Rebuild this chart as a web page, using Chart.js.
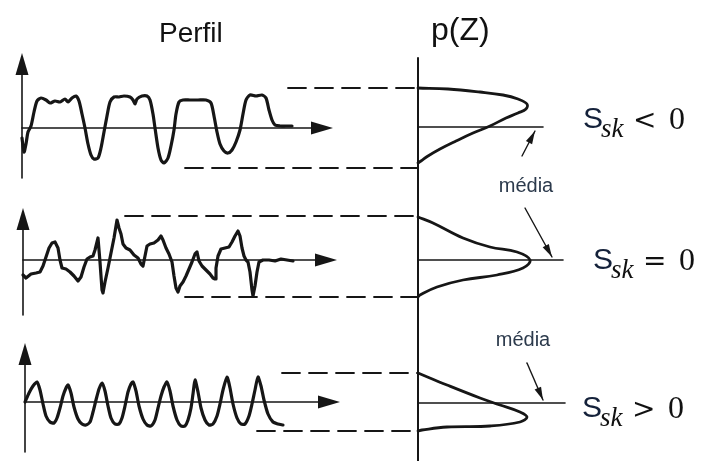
<!DOCTYPE html>
<html lang="pt">
<head>
<meta charset="utf-8">
<title>Perfil e p(Z)</title>
<script src="https://cdn.jsdelivr.net/npm/chart.js@4.4.1/dist/chart.umd.min.js"></script>
<style>
  html, body { margin: 0; padding: 0; background: #fff; }
  #wrap { position: relative; width: 714px; height: 461px; }
</style>
</head>
<body>
<div id="wrap"><canvas id="chart" width="714" height="461"></canvas></div>
<script>
// =============================================
// Perfil de superfície x densidade p(Z) - Ssk
// =============================================

// ── Dados (distância ao longo do perfil, altura Z) ──
const perfilNeg = [[0,-10],[2,-24],[4,-16],[6,-4],[9,2],[12,16],[15,27],[19,30],[24,28],[28,25],[33,27],[38,26],[43,29],[46,26],[50,30],[54,32],[57,27],[60,14],[63,0],[66,-16],[69,-27],[72,-31],[76,-30],[79,-20],[82,-4],[85,12],[88,26],[92,31],[97,31],[102,32],[108,31],[111,28],[113,24],[115,29],[120,32],[125,32],[128,28],[131,14],[133,0],[136,-20],[139,-32],[142,-35],[146,-30],[149,-18],[152,-2],[154,14],[157,26],[161,28],[168,28],[176,28],[184,28],[189,25],[192,12],[195,-4],[198,-16],[202,-23],[206,-25],[210,-22],[214,-14],[218,-2],[221,14],[224,28],[228,33],[234,32],[240,33],[244,30],[247,18],[250,8],[253,3],[258,2],[264,2],[270,2]];
const perfilZero = [[0,-15],[3,-18],[8,-14],[13,-13],[17,-12],[20,-6],[23,3],[26,12],[29,17],[32,18],[35,12],[37,0],[39,-8],[43,-9],[47,-12],[51,-16],[55,-21],[58,-17],[61,-7],[64,1],[67,3],[70,4],[72,10],[74,18],[75,22],[76,10],[77,-2],[79,-30],[80,-33],[82,-22],[85,-8],[87,2],[89,12],[91,22],[93,34],[94,40],[96,32],[98,26],[100,16],[103,12],[107,10],[111,5],[115,2],[118,-4],[120,-6],[122,4],[124,14],[127,16],[131,17],[135,20],[138,24],[140,20],[143,12],[146,6],[149,-2],[151,-16],[153,-28],[155,-32],[157,-26],[160,-22],[163,-16],[166,-9],[169,-2],[172,6],[174,8],[176,-1],[179,-6],[183,-10],[187,-14],[190,-18],[192,-19],[193,-8],[195,4],[198,11],[202,12],[206,13],[209,18],[212,24],[215,29],[217,24],[219,12],[221,4],[223,0],[225,-2],[227,-12],[229,-30],[230,-36],[232,-26],[234,-12],[236,-2],[240,0],[246,0],[252,-1],[258,1],[264,0],[270,-1]];
const perfilPos = [[0,0],[4,9],[8,16],[12,20],[15,12],[18,-2],[21,-14],[25,-20],[29,-21],[32,-16],[35,-6],[38,6],[41,14],[43,17],[46,9],[49,-5],[53,-17],[57,-22],[61,-23],[65,-20],[68,-10],[71,2],[74,13],[77,19],[80,11],[83,-4],[86,-16],[90,-22],[94,-22],[97,-16],[100,-4],[103,10],[106,18],[108,20],[111,11],[114,-4],[118,-17],[122,-23],[126,-24],[130,-18],[133,-6],[136,6],[139,15],[142,20],[145,11],[148,-4],[152,-18],[156,-24],[160,-24],[163,-18],[166,-6],[168,8],[170,22],[173,10],[176,-6],[180,-18],[184,-23],[188,-22],[192,-14],[195,-2],[198,12],[202,25],[205,14],[208,-2],[212,-16],[216,-22],[220,-22],[224,-14],[227,-2],[230,12],[233,25],[236,16],[239,2],[243,-12],[248,-20],[253,-22],[258,-23]];

// ── Densidade (p(Z), Z) ──
const densNeg = [[0,39],[30,38],[62,35],[85,32],[100,28],[109,23],[108,18],[100,14],[88,9],[72,1],[55,-6],[38,-14],[22,-22],[10,-29],[3,-34],[0,-36]];
const densZero = [[0,43],[15,37],[45,22],[72,13],[99,8],[112,0],[105,-8],[79,-15],[45,-20],[19,-27],[2,-35],[0,-37]];
const densPos = [[0,30],[29,18],[62,5],[82,-2],[102,-9],[109,-14],[102,-19],[72,-23],[29,-24],[4,-27],[0,-28]];

// alturas máximas / mínimas (linhas tracejadas)
const picos = [40, 44, 29];
const vales = [-40, -37, -29];
const sinais = ['<', '=', '>'];
const rotulos = { perfil: 'Perfil', eixo: 'p(Z)', media: 'média' };

// ── Layout ──────────────────────────
const INK = '#161616';
const PX = 418;
const ROWS = [
    { ox: 22, oy: 128, top: 53,  bot: 178, end: 333, hi: 288, lo: 185, my: 127, meanLen: 125, lbl: [583, 128], tension: 0.25 },
    { ox: 23, oy: 260, top: 208, bot: 315, end: 337, hi: 125, lo: 185, my: 260, meanLen: 145, lbl: [593, 269], tension: 0 },
    { ox: 25, oy: 402, top: 343, bot: 452, end: 340, hi: 282, lo: 257, my: 403, meanLen: 147, lbl: [582, 417], tension: 0.22 }
];
const setasMedia = [
    { from: [522, 156], to: [535, 131] },
    { from: [525, 208], to: [552, 257] },
    { from: [527, 363], to: [543, 400] }
];
const rotMedia = [[526, 192], [523, 346]];

const perfis = [perfilNeg, perfilZero, perfilPos];
const densidades = [densNeg, densZero, densPos];

function pts(arr, ox, oy) { return arr.map(([a, z]) => ({ x: ox + a, y: oy - z })); }
function seg(x1, y1, x2, y2) { return [{ x: x1, y: y1 }, { x: x2, y: y2 }]; }
function ds(data, opts) {
    return Object.assign({ data, showLine: true, pointRadius: 0, borderColor: INK, borderWidth: 2, tension: 0, fill: false }, opts || {});
}

const datasets = [];
const heads = [];
ROWS.forEach((r, i) => {
    // eixos do perfil
    datasets.push(ds(seg(r.ox, r.bot, r.ox, r.top + 6), { borderWidth: 1.6 }));
    datasets.push(ds(seg(r.ox, r.oy, r.end - 6, r.oy), { borderWidth: 1.6 }));
    heads.push({ from: [r.ox, r.bot], to: [r.ox, r.top], len: 22, w: 13 });
    heads.push({ from: [r.ox, r.oy], to: [r.end, r.oy], len: 22, w: 13 });
    // perfil
    datasets.push(ds(pts(perfis[i], r.ox, r.oy), { borderWidth: 3.2, tension: r.tension }));
    // tracejadas
    datasets.push(ds(seg(r.hi, r.oy - picos[i], PX, r.oy - picos[i]), { borderWidth: 1.8, borderDash: [18, 9] }));
    datasets.push(ds(seg(r.lo, r.oy - vales[i], PX, r.oy - vales[i]), { borderWidth: 1.8, borderDash: [18, 9] }));
    // linha média + densidade
    datasets.push(ds(seg(PX, r.my, PX + r.meanLen, r.my), { borderWidth: 1.6 }));
    datasets.push(ds(pts(densidades[i], PX, r.my), { borderWidth: 2.8, tension: 0.4 }));
    // seta "média"
    const s = setasMedia[i];
    datasets.push(ds(seg(s.from[0], s.from[1], s.to[0], s.to[1]), { borderWidth: 1.4 }));
    heads.push({ from: s.from, to: s.to, len: 13, w: 7 });
});
// eixo p(Z)
datasets.push(ds(seg(PX, 58, PX, 461), { borderWidth: 2 }));

// ── Plugins ─────────────────────────
const pontas = {
    id: 'pontas',
    afterDatasetsDraw(chart) {
        const { ctx, scales: { x, y } } = chart;
        ctx.save();
        ctx.fillStyle = INK;
        heads.forEach(h => {
            const tx = x.getPixelForValue(h.to[0]), ty = y.getPixelForValue(h.to[1]);
            const fx = x.getPixelForValue(h.from[0]), fy = y.getPixelForValue(h.from[1]);
            const a = Math.atan2(ty - fy, tx - fx);
            const bx = tx - h.len * Math.cos(a), by = ty - h.len * Math.sin(a);
            const nx = Math.sin(a) * h.w / 2, ny = -Math.cos(a) * h.w / 2;
            ctx.beginPath();
            ctx.moveTo(tx, ty);
            ctx.lineTo(bx + nx, by + ny);
            ctx.lineTo(bx - nx, by - ny);
            ctx.closePath();
            ctx.fill();
        });
        ctx.restore();
    }
};

const textos = {
    id: 'textos',
    afterDraw(chart) {
        const { ctx, scales: { x, y } } = chart;
        const X = v => x.getPixelForValue(v), Y = v => y.getPixelForValue(v);
        ctx.save();
        ctx.textBaseline = 'alphabetic';
        ctx.textAlign = 'left';
        ctx.fillStyle = '#111';
        ctx.font = '28px "Liberation Sans", Arial, sans-serif';
        ctx.fillText(rotulos.perfil, X(159), Y(42));
        ctx.font = '32px "Liberation Sans", Arial, sans-serif';
        ctx.fillText(rotulos.eixo, X(431), Y(40));

        ctx.fillStyle = '#2c3a4c';
        ctx.textAlign = 'center';
        ctx.font = '20px "Liberation Sans", Arial, sans-serif';
        rotMedia.forEach(([mx, my]) => ctx.fillText(rotulos.media, X(mx), Y(my)));

        ctx.textAlign = 'left';
        ROWS.forEach((r, i) => {
            const [lx, ly] = r.lbl;
            ctx.fillStyle = '#14213a';
            ctx.font = '30px "Liberation Sans", Arial, sans-serif';
            ctx.fillText('S', X(lx), Y(ly));
            ctx.fillStyle = '#111';
            ctx.font = 'italic 27px "Liberation Serif", "DejaVu Serif", serif';
            ctx.fillText('sk', X(lx + 18), Y(ly + 9));
            ctx.font = '28px "DejaVu Serif", "Liberation Serif", serif';
            ctx.fillText(sinais[i], X(lx + 50), Y(ly + 1));
            ctx.font = '32px "Liberation Serif", "DejaVu Serif", serif';
            ctx.fillText('0', X(lx + 86), Y(ly + 1));
        });
        ctx.restore();
    }
};

// ── Chart ───────────────────────────
new Chart(document.getElementById('chart'), {
    type: 'scatter',
    data: { datasets },
    options: {
        responsive: false,
        animation: false,
        events: [],
        layout: { padding: 0 },
        plugins: { legend: { display: false }, tooltip: { enabled: false }, title: { display: false } },
        elements: { line: { borderCapStyle: 'round', borderJoinStyle: 'round' } },
        scales: {
            x: { type: 'linear', min: 0, max: 714, display: false },
            y: { type: 'linear', min: 0, max: 461, reverse: true, display: false }
        }
    },
    plugins: [pontas, textos]
});
</script>
</body>
</html>
